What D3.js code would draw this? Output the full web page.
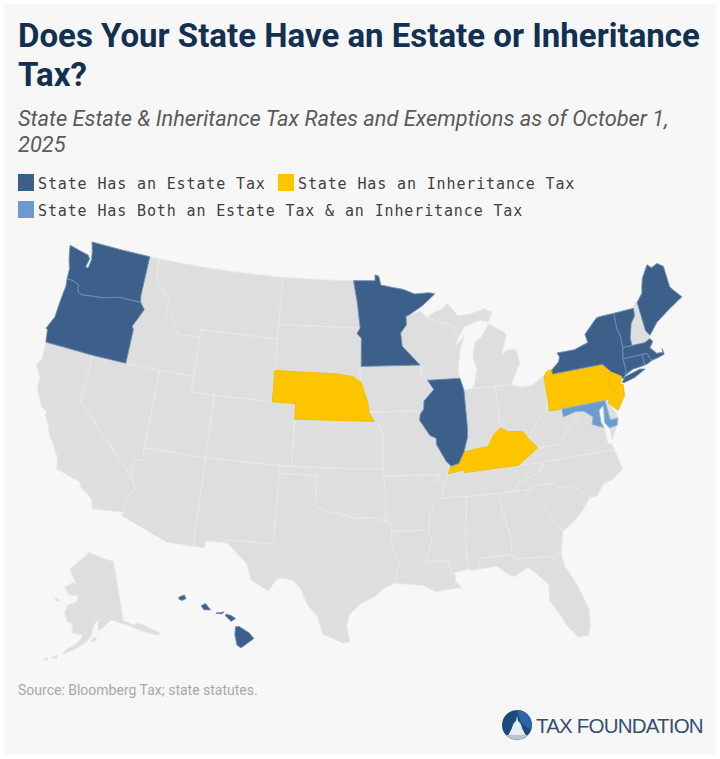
<!DOCTYPE html>
<html>
<head>
<meta charset="utf-8">
<script src="https://cdn.jsdelivr.net/npm/d3@7"></script>
<style>
  html, body { margin: 0; padding: 0; background: #fff; }
  svg { display: block; }
</style>
</head>
<body>
<div id="chart"></div>
<script>
// Status lists
const estateStates = ["WA","OR","MN","IL","NY","VT","ME","MA","CT","RI","HI"];
const inheritanceStates = ["NE","KY","PA","NJ"];
const bothStates = ["MD"];

const titleLines = ["Does Your State Have an Estate or Inheritance", "Tax?"];
const subtitleLines = ["State Estate & Inheritance Tax Rates and Exemptions as of October 1,", "2025"];
const legendLabels = ["State Has an Estate Tax", "State Has an Inheritance Tax", "State Has Both an Estate Tax & an Inheritance Tax"];
const sourceText = "Source: Bloomberg Tax; state statutes.";

// State outlines, lon/lat, hand simplified. Each state is a list of rings.
const WA = [[[-124.7,48.38],[-123.1,48.15],[-122.8,48.12],[-122.55,47.9],[-122.7,47.35],[-122.45,47.3],[-122.35,47.9],[-122.5,48.4],[-122.78,49],[-120,49],[-117.03,49],[-117.04,46.42],[-116.92,46],[-118.98,46],[-119.3,45.93],[-120.5,45.7],[-121.2,45.65],[-122.3,45.55],[-122.75,45.65],[-122.9,46.1],[-123.4,46.25],[-124.05,46.27],[-124.1,46.9],[-124.4,47.5]]];
const OR = [[[-124.05,46.27],[-123.4,46.25],[-122.9,46.1],[-122.75,45.65],[-122.3,45.55],[-121.2,45.65],[-120.5,45.7],[-119.3,45.93],[-118.98,46],[-116.92,46],[-116.46,45.6],[-116.85,44.95],[-117.2,44.4],[-117.03,44.2],[-117.03,42],[-120,42],[-124.21,42],[-124.4,42.8],[-124.55,42.84],[-124.1,43.7],[-124.05,44.8],[-123.95,45.8]]];
const CA = [[[-124.21,42],[-120,42],[-120,39],[-114.63,35],[-114.14,34.3],[-114.5,33.9],[-114.72,33.4],[-114.72,32.72],[-117.12,32.53],[-117.3,33.1],[-118.4,33.75],[-118.5,34.03],[-119.2,34.15],[-120.5,34.45],[-120.65,35.15],[-121.9,36.6],[-122,36.95],[-122.5,37.5],[-122.5,37.8],[-123,38],[-123.75,39],[-123.85,39.8],[-124.4,40.4],[-124.1,41],[-124.2,41.75]]];
const NV = [[[-120,42],[-117.03,42],[-114.04,42],[-114.04,36.2],[-114.74,36.1],[-114.63,35],[-120,39]]];
const ID = [[[-117.03,49],[-116.05,49],[-116.05,48],[-115.7,47.45],[-114.7,46.7],[-114.35,46.65],[-114.5,45.55],[-113.9,45.65],[-113.45,44.95],[-113,44.45],[-111.5,44.55],[-111.05,44.48],[-111.05,42],[-114.04,42],[-117.03,42],[-117.03,44.2],[-117.2,44.4],[-116.85,44.95],[-116.46,45.6],[-116.92,46],[-117.04,46.42]]];
const MT = [[[-116.05,49],[-112,49],[-108,49],[-104.05,49],[-104.05,45.94],[-104.05,45],[-111.05,45],[-111.05,44.48],[-111.5,44.55],[-113,44.45],[-113.45,44.95],[-113.9,45.65],[-114.5,45.55],[-114.35,46.65],[-114.7,46.7],[-115.7,47.45],[-116.05,48]]];
const WY = [[[-111.05,45],[-104.05,45],[-104.05,43],[-104.05,41],[-111.05,41],[-111.05,42]]];
const UT = [[[-114.04,42],[-111.05,42],[-111.05,41],[-109.05,41],[-109.05,37],[-114.04,37]]];
const CO = [[[-109.05,41],[-104.05,41],[-102.05,41],[-102.05,37],[-109.05,37]]];
const AZ = [[[-114.04,37],[-109.05,37],[-109.05,31.33],[-111.07,31.33],[-114.81,32.5],[-114.72,32.72],[-114.72,33.4],[-114.5,33.9],[-114.14,34.3],[-114.63,35],[-114.74,36.1],[-114.04,36.2]]];
const NM = [[[-109.05,37],[-103,37],[-103.04,32],[-106.62,32],[-106.53,31.78],[-108.2,31.78],[-108.2,31.33],[-109.05,31.33]]];
const ND = [[[-104.05,49],[-100,49],[-97.23,49],[-96.85,47.6],[-96.56,45.94],[-104.05,45.94]]];
const SD = [[[-104.05,45.94],[-96.56,45.94],[-96.85,45.6],[-96.45,45.3],[-96.45,43.5],[-96.6,43.5],[-96.44,42.49],[-97.2,42.85],[-98.5,43],[-104.05,43]]];
const MN = [[[-97.23,49],[-95.15,49],[-95.15,49.38],[-94.8,49.3],[-94.6,48.72],[-93.5,48.55],[-92.5,48.4],[-91.4,48.07],[-90,48.1],[-89.5,48],[-90.7,47.3],[-92.05,46.72],[-92.3,46.66],[-92.3,46.1],[-92.85,45.6],[-92.75,44.75],[-91.22,43.5],[-96.45,43.5],[-96.45,45.3],[-96.85,45.6],[-96.56,45.94],[-96.85,47.6]]];
const WI = [[[-92.05,46.72],[-90.9,46.95],[-90.4,46.55],[-89.1,46.13],[-88.1,45.9],[-87.6,45.1],[-88,44.55],[-87.4,44.9],[-87.05,45.25],[-87.55,44.3],[-87.9,43],[-87.8,42.49],[-90.64,42.51],[-91.15,42.9],[-91.22,43.5],[-92.75,44.75],[-92.85,45.6],[-92.3,46.1],[-92.3,46.66]]];
const IA = [[[-96.45,43.5],[-91.22,43.5],[-91.15,42.9],[-90.64,42.51],[-90.15,41.9],[-91.05,41.2],[-91.1,40.7],[-91.42,40.38],[-91.73,40.61],[-95.77,40.58],[-95.88,41.3],[-96.1,41.7],[-96.44,42.49],[-96.6,43.5]]];
const NE = [[[-104.05,43],[-98.5,43],[-97.2,42.85],[-96.44,42.49],[-96.1,41.7],[-95.88,41.3],[-95.77,40.58],[-95.31,40],[-102.05,40],[-102.05,41],[-104.05,41]]];
const KS = [[[-102.05,40],[-95.31,40],[-94.9,39.75],[-94.62,39.1],[-94.62,37],[-98,37],[-102.05,37]]];
const OK = [[[-103,37],[-102.05,37],[-98,37],[-94.62,37],[-94.43,35.4],[-94.48,33.64],[-95.5,33.88],[-97,33.85],[-98.1,34.13],[-99.2,34.3],[-100,34.56],[-100,36.5],[-103,36.5]]];
const TX = [[[-103,36.5],[-100,36.5],[-100,34.56],[-99.2,34.3],[-98.1,34.13],[-97,33.85],[-95.5,33.88],[-94.48,33.64],[-94.04,33.55],[-94.04,33.02],[-94.04,32],[-93.52,31.1],[-93.75,30.3],[-93.85,29.7],[-94.7,29.4],[-95.3,28.9],[-96.4,28.4],[-97.2,27.7],[-97.4,27],[-97.15,25.96],[-97.6,25.85],[-99.1,26.4],[-99.5,27.5],[-100.3,28.3],[-100.8,29.25],[-101.4,29.77],[-102.3,29.88],[-102.7,29.7],[-103.15,28.98],[-104.5,29.6],[-104.9,30.6],[-106.53,31.78],[-106.62,32],[-103.04,32]]];
const MO = [[[-95.77,40.58],[-91.73,40.61],[-91.42,40.38],[-91.5,40],[-90.7,39],[-90.2,38.8],[-90.2,38.4],[-89.5,37.3],[-89.13,36.98],[-89.4,36.5],[-89.7,36],[-90.37,36],[-90.15,36.5],[-94.62,36.5],[-94.62,37],[-94.62,39.1],[-94.9,39.75],[-95.31,40]]];
const AR = [[[-94.62,36.5],[-90.15,36.5],[-90.37,36],[-89.7,36],[-90.1,35],[-90.6,34.7],[-91.1,33.9],[-91.15,33],[-94.04,33.02],[-94.04,33.55],[-94.48,33.64],[-94.43,35.4]]];
const LA = [[[-94.04,33.02],[-91.15,33],[-91,32.3],[-91.6,31],[-89.73,31],[-89.85,30.67],[-89.55,30.18],[-89.4,30.05],[-89.4,29.7],[-89,29.2],[-90.1,29.15],[-90.9,29.05],[-91.8,29.5],[-92.3,29.55],[-93.85,29.7],[-93.75,30.3],[-93.52,31.1],[-94.04,32]]];
const MS = [[[-90.1,35],[-88.2,35],[-88.1,34.9],[-88.47,31.9],[-88.4,30.37],[-89.55,30.18],[-89.85,30.67],[-89.73,31],[-91.6,31],[-91,32.3],[-91.15,33],[-91.1,33.9],[-90.6,34.7]]];
const AL = [[[-88.2,35],[-85.6,34.98],[-85.18,32.87],[-85,32.3],[-85.05,31],[-87.6,31],[-87.5,30.3],[-88,30.25],[-88.4,30.37],[-88.47,31.9],[-88.1,34.9]]];
const GA = [[[-85.6,34.98],[-84.32,34.99],[-83.11,35],[-83.35,34.7],[-82,33.5],[-81.4,32.6],[-81,32.05],[-81.4,30.7],[-82.05,30.36],[-82.2,30.57],[-84.86,30.7],[-85.05,31],[-85,32.3],[-85.18,32.87]]];
const FL = [[[-87.6,31],[-85.05,31],[-84.86,30.7],[-82.2,30.57],[-82.05,30.36],[-81.4,30.7],[-81.3,29.9],[-80.55,28.4],[-80.05,26.9],[-80.15,25.75],[-80.4,25.2],[-81.1,25.15],[-81.75,26],[-82.2,26.9],[-82.75,27.8],[-82.65,28.8],[-83.4,29.6],[-84,30.1],[-85,29.6],[-85.35,29.7],[-86.3,30.38],[-87.5,30.3]]];
const SC = [[[-83.11,35],[-82.4,35.2],[-81.05,35.15],[-80.8,34.82],[-79.67,34.8],[-78.55,33.86],[-79.2,33.2],[-80,32.6],[-81,32.05],[-81.4,32.6],[-82,33.5],[-83.35,34.7]]];
const NC = [[[-84.32,34.99],[-83.11,35],[-82.4,35.2],[-81.05,35.15],[-80.8,34.82],[-79.67,34.8],[-78.55,33.86],[-77.95,33.9],[-77.3,34.55],[-76.5,34.7],[-75.55,35.25],[-75.9,36.55],[-81.68,36.59],[-82,36.1],[-83,35.77],[-84,35.4]]];
const TN = [[[-90.1,35],[-88.2,35],[-85.6,34.98],[-84.32,34.99],[-84,35.4],[-83,35.77],[-82,36.1],[-81.68,36.59],[-83.68,36.6],[-88.07,36.5],[-88.07,36.68],[-89.4,36.5],[-89.7,36]]];
const KY = [[[-89.4,36.5],[-88.07,36.68],[-88.07,36.5],[-83.68,36.6],[-81.97,37.54],[-82.6,38.17],[-83,38.7],[-84.2,38.8],[-84.8,39.1],[-85.4,38.73],[-86,38],[-86.8,37.95],[-88,37.8],[-88.5,37.1],[-89.13,36.98]]];
const IL = [[[-90.64,42.51],[-87.8,42.49],[-87.55,41.72],[-87.53,39.35],[-87.6,38.7],[-88,37.8],[-88.5,37.1],[-89.13,36.98],[-89.5,37.3],[-90.2,38.4],[-90.2,38.8],[-90.7,39],[-91.5,40],[-91.42,40.38],[-91.1,40.7],[-91.05,41.2],[-90.15,41.9]]];
const IN = [[[-87.55,41.72],[-87.2,41.76],[-86.8,41.76],[-84.8,41.76],[-84.8,39.1],[-85.4,38.73],[-86,38],[-86.8,37.95],[-88,37.8],[-87.6,38.7],[-87.53,39.35]]];
const OH = [[[-84.8,41.76],[-83.45,41.73],[-82.7,41.5],[-81.7,41.5],[-80.52,41.98],[-80.52,40.64],[-80.85,39.7],[-81.75,39.2],[-82.2,38.6],[-82.6,38.17],[-83,38.7],[-84.2,38.8],[-84.8,39.1]]];
const MI = [
  [[-86.8,41.76],[-84.8,41.76],[-83.45,41.73],[-83.15,42.1],[-82.45,43],[-82.6,43.9],[-83.4,43.95],[-83.9,43.7],[-83.3,44.9],[-83.45,45.1],[-84.75,45.78],[-85.5,45],[-86.2,44.7],[-86.5,43.7],[-86.25,43],[-86.6,42]],
  [[-90.4,46.55],[-89.1,46.13],[-88.1,45.9],[-87.6,45.1],[-87,45.75],[-85.5,46.05],[-84.75,45.9],[-84.3,46.5],[-85,46.75],[-86.5,46.5],[-87.5,46.5],[-88.4,47.35],[-88.9,47],[-89.6,46.83]]
];
const PA = [[[-80.52,41.98],[-80.1,42.27],[-79.76,42.27],[-79.76,42],[-75.35,42],[-74.7,41.36],[-75.1,40.97],[-75.2,40.65],[-74.72,40.15],[-75.4,39.8],[-75.79,39.72],[-79.48,39.72],[-80.52,39.72],[-80.52,40.64]]];
const NY = [
  [[-79.76,42.27],[-79.05,42.7],[-78.9,43],[-79.05,43.27],[-77.5,43.27],[-76.2,43.55],[-76.3,44.1],[-75,44.95],[-74.7,45],[-73.35,45],[-73.4,44],[-73.25,43.55],[-73.27,42.75],[-73.5,42.05],[-73.48,41.2],[-73.65,41],[-73.9,40.8],[-74,40.99],[-74.7,41.36],[-75.35,42],[-79.76,42]],
  [[-74.03,40.6],[-73.7,40.9],[-72.3,41.15],[-71.87,41.07],[-72.9,40.72],[-73.9,40.55]]
];
const NJ = [[[-74.7,41.36],[-74,40.99],[-74.1,40.7],[-74.25,40.5],[-74,40.45],[-74.1,39.75],[-74.9,38.93],[-75.55,39.5],[-75.4,39.8],[-74.72,40.15],[-75.2,40.65],[-75.1,40.97]]];
const CT = [[[-73.5,42.05],[-71.8,42.02],[-71.8,41.32],[-72.9,41.25],[-73.65,41],[-73.48,41.2]]];
const RI = [[[-71.8,42.02],[-71.38,42.02],[-71.13,41.5],[-71.5,41.37],[-71.8,41.32]]];
const MA = [[[-73.5,42.05],[-73.27,42.75],[-72.46,42.73],[-71.3,42.7],[-70.82,42.87],[-70.6,42.65],[-71,42.3],[-70.55,41.85],[-70,41.8],[-70,42.05],[-69.95,41.67],[-70.6,41.55],[-71.13,41.5],[-71.38,42.02],[-71.8,42.02]]];
const VT = [[[-73.35,45],[-71.5,45],[-71.6,44.5],[-72.05,44.1],[-72.45,43.2],[-72.46,42.73],[-73.27,42.75],[-73.25,43.55],[-73.4,44]]];
const NH = [[[-71.5,45],[-71.3,45.3],[-71.05,45.3],[-70.98,43.4],[-70.7,43.07],[-70.82,42.87],[-71.3,42.7],[-72.46,42.73],[-72.45,43.2],[-72.05,44.1],[-71.6,44.5]]];
const ME = [[[-71.05,45.3],[-70.4,45.8],[-70.25,46.2],[-70,46.7],[-69.23,47.46],[-68.9,47.2],[-68.3,47.36],[-67.8,47.07],[-67.8,45.7],[-67.45,45.3],[-67,44.85],[-68.5,44.3],[-69.8,43.75],[-70.7,43.07],[-70.98,43.4]]];
const DE = [[[-75.79,39.72],[-75.4,39.8],[-75.55,39.5],[-75.1,38.8],[-75.05,38.45],[-75.7,38.46]]];
const MD = [[[-79.48,39.72],[-75.79,39.72],[-75.7,38.46],[-75.05,38.45],[-75.25,38.03],[-75.9,37.95],[-76.2,38.35],[-76.1,38.9],[-76,39.45],[-76.45,39.2],[-76.5,38.4],[-76.35,38.05],[-77,38.3],[-77.25,38.4],[-77.05,38.85],[-77.7,39.32],[-78.35,39.4],[-79.48,39.2]]];
const WV = [[[-80.52,40.64],[-80.52,39.72],[-79.48,39.72],[-79.48,39.2],[-78.35,39.4],[-77.7,39.32],[-78.87,38.76],[-80.3,37.5],[-81.97,37.54],[-82.6,38.17],[-82.2,38.6],[-81.75,39.2],[-80.85,39.7]]];
const VA = [
  [[-83.68,36.6],[-81.68,36.59],[-75.9,36.55],[-76,37],[-76.3,37],[-76.3,37.9],[-76.35,38.05],[-77,38.3],[-77.25,38.4],[-77.05,38.85],[-77.7,39.32],[-78.87,38.76],[-80.3,37.5],[-81.97,37.54]],
  [[-75.9,37.95],[-75.25,38.03],[-75.9,37.15]]
];
const AK = [
  [[-141,69.65],[-141,60.3],[-139,60],[-137.5,59.4],[-135.5,59.6],[-133,59],[-130.5,58],[-128,57.1],[-129,56.8],[-132,57.5],[-135,58.3],[-137,58.9],[-139.7,59.6],[-142,60],[-146,60.7],[-148.5,60],[-150.5,59.3],[-151.8,59.2],[-151.3,60.8],[-149.8,61.2],[-152.5,60.5],[-153.8,59.5],[-154.2,58.4],[-156.5,57.3],[-158.5,56.7],[-161,56],[-163.5,55.4],[-164.8,55.2],[-163,56.1],[-160.5,56.9],[-158.5,57.7],[-157.5,58.5],[-159,58.5],[-162,58.7],[-162,60],[-164.5,60.4],[-166,61.6],[-164.8,63],[-161,63.6],[-161,64.5],[-165,64.5],[-168,65.6],[-164,66.5],[-161.8,66.2],[-163.7,67.1],[-166.8,68.4],[-163,69.6],[-157,71],[-156.5,71.35],[-152,70.9],[-146,70.2]],
  [[-154.6,57.6],[-153.4,57.4],[-152.3,57.8],[-152.6,58.2],[-153.5,58]],
  [[-171.7,63.6],[-170,63.7],[-168.8,63.3],[-170.2,63.2]],
  [[-168,54.5],[-166.2,54.9],[-166.2,54.4],[-167.8,54.2]],
  [[-170.8,54],[-169.6,54.2],[-169.2,54],[-170.2,53.7]]
];
const HI = [
  [[-159.75,22.1],[-159.4,22.23],[-159.3,22],[-159.55,21.88],[-159.78,21.97]],
  [[-158.28,21.55],[-158,21.7],[-157.65,21.3],[-158.1,21.3]],
  [[-157.3,21.1],[-156.75,21.17],[-156.9,21.05],[-157.3,21.08]],
  [[-156.7,20.95],[-156.6,21.03],[-156.25,20.93],[-156,20.75],[-156.3,20.58],[-156.5,20.78]],
  [[-156,20.25],[-155.75,20.25],[-155.1,19.85],[-154.8,19.5],[-155.65,18.92],[-155.92,19.1],[-156.05,19.75]]
];

const stateShapes = {WA,OR,CA,NV,ID,MT,WY,UT,CO,AZ,NM,ND,SD,MN,WI,IA,NE,KS,OK,TX,MO,AR,LA,MS,AL,GA,FL,SC,NC,TN,KY,IL,IN,OH,MI,PA,NY,NJ,CT,RI,MA,VT,NH,ME,DE,MD,WV,VA,AK,HI};

const width = 720;
const height = 759;

const navy = "#3c6089";
const yellow = "#fdc500";
const lightBlue = "#6b9bd1";
const grey = "#dedede";

const svg = d3.select("#chart").append("svg")
  .attr("width", width)
  .attr("height", height);

// panel
svg.append("rect")
  .attr("x", 4).attr("y", 4)
  .attr("width", 712).attr("height", 750)
  .attr("fill", "#f7f7f8");

// title
svg.selectAll("text.title")
  .data(titleLines)
  .join("text")
  .attr("class", "title")
  .attr("x", 18)
  .attr("y", (d, i) => 47 + i * 39)
  .attr("font-family", "Roboto")
  .attr("font-weight", 700)
  .attr("font-size", 33)
  .attr("fill", "#12304f")
  .text(d => d);

svg.selectAll("text.subtitle")
  .data(subtitleLines)
  .join("text")
  .attr("class", "subtitle")
  .attr("x", 18)
  .attr("y", (d, i) => 126 + i * 26)
  .attr("font-family", "Roboto")
  .attr("font-style", "italic")
  .attr("font-size", 21.8)
  .attr("fill", "#5a5a5a")
  .text(d => d);

// legend
const legendColor = d3.scaleOrdinal().domain(legendLabels).range([navy, yellow, lightBlue]);
const legendX = [18, 278, 18];
const legendY = [175, 175, 202];
const legend = svg.selectAll("g.legend")
  .data(legendLabels)
  .join("g")
  .attr("class", "legend")
  .attr("transform", (d, i) => `translate(${legendX[i]},${legendY[i]})`);
legend.append("rect")
  .attr("width", 16).attr("height", 17)
  .attr("y", -1)
  .attr("fill", d => legendColor(d));
legend.append("text")
  .attr("x", 20)
  .attr("y", 14)
  .attr("font-family", "DejaVu Sans Mono")
  .attr("font-size", 15)
  .attr("letter-spacing", 0.87)
  .attr("fill", "#3f3f3f")
  .text(d => d);

// map
const lower48 = d3.geoConicEqualArea()
  .parallels([29.5, 45.5])
  .rotate([96, 0])
  .center([-0.6, 38.7])
  .scale(895)
  .translate([359, 442]);
// wide parallels squeeze the state the way the reference inset does
const alaska = d3.geoConicEqualArea()
  .parallels([25, 89])
  .rotate([154, 0])
  .center([-2, 58.5])
  .scale(320)
  .translate([87, 635]);
const hawaii = d3.geoConicEqualArea()
  .parallels([8, 18])
  .rotate([157, 0])
  .center([-3, 19.9])
  .scale(920)
  .translate([175, 632]);

function toFeature(name) {
  // keep rings wound so that d3 fills the inside
  const rings = stateShapes[name].map(r => {
    const closed = r.concat([r[0]]);
    const a = d3.geoArea({type: "Polygon", coordinates: [closed]});
    return a > 2 * Math.PI ? closed.slice().reverse() : closed;
  });
  return {
    type: "Feature",
    id: name,
    geometry: {type: "MultiPolygon", coordinates: rings.map(r => [r])}
  };
}

function fillFor(name) {
  if (estateStates.includes(name)) return navy;
  if (inheritanceStates.includes(name)) return yellow;
  if (bothStates.includes(name)) return lightBlue;
  return grey;
}

function borderFor(name) {
  if (estateStates.includes(name)) return "#6f90b5";
  if (inheritanceStates.includes(name)) return "#f2bc00";
  if (bothStates.includes(name)) return "#8fb5dd";
  return "#e9e9e9";
}

const projFor = name => name === "AK" ? alaska : name === "HI" ? hawaii : lower48;

// grey states first so that coloured ones sit on top
const names = Object.keys(stateShapes)
  .sort((a, b) => (fillFor(a) === grey ? 0 : 1) - (fillFor(b) === grey ? 0 : 1));

svg.append("g").selectAll("path")
  .data(names)
  .join("path")
  .attr("d", d => d3.geoPath().projection(projFor(d))(toFeature(d)))
  .attr("fill", fillFor)
  .attr("stroke", borderFor)
  .attr("stroke-width", 0.9)
  .attr("stroke-linejoin", "round");

// source
svg.append("text")
  .attr("x", 18)
  .attr("y", 695)
  .attr("font-family", "Roboto")
  .attr("font-size", 14)
  .attr("fill", "#a8a8a8")
  .text(sourceText);

// logo
const logo = svg.append("g").attr("transform", "translate(517,725)");
logo.append("circle").attr("r", 15).attr("fill", "#1d4a7c");
logo.append("path")
  .attr("d", "M0,-15 A15,15 0 0 1 14,5 L4,-2 Z")
  .attr("fill", "#2a66a8");
logo.append("path")
  .attr("d", "M-9,11 L-5,3 Q-4,-2 -1,-4 L0,-9 L1,-4 Q4,-2 5,3 L9,11 Z")
  .attr("fill", "#e6ebf1");
logo.append("path")
  .attr("d", "M-11,10 A15,15 0 0 0 11,10 Z")
  .attr("fill", "#b9c3cf");
svg.append("text")
  .attr("x", 536)
  .attr("y", 733)
  .attr("font-family", "Liberation Sans")
  .attr("font-size", 20.5)
  .attr("letter-spacing", -0.8)
  .attr("fill", "#33506f")
  .text("TAX FOUNDATION");
</script>
</body>
</html>
